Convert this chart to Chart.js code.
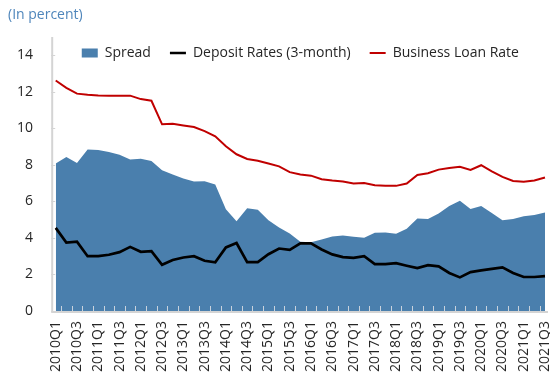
<!DOCTYPE html>
<html>
<head>
<meta charset="utf-8">
<script src="https://cdn.jsdelivr.net/npm/chart.js@4/dist/chart.umd.min.js"></script>
<style>
  html, body { margin: 0; padding: 0; background: #ffffff; }
  #wrap { width: 550px; height: 377px; }
</style>
</head>
<body>
<div id="wrap"><canvas id="c" width="550" height="377"></canvas></div>
<script>
// Quarterly observations, 2010Q1 - 2021Q3
const quarters = [
  '2010Q1','2010Q2','2010Q3','2010Q4','2011Q1','2011Q2','2011Q3','2011Q4',
  '2012Q1','2012Q2','2012Q3','2012Q4','2013Q1','2013Q2','2013Q3','2013Q4',
  '2014Q1','2014Q2','2014Q3','2014Q4','2015Q1','2015Q2','2015Q3','2015Q4',
  '2016Q1','2016Q2','2016Q3','2016Q4','2017Q1','2017Q2','2017Q3','2017Q4',
  '2018Q1','2018Q2','2018Q3','2018Q4','2019Q1','2019Q2','2019Q3','2019Q4',
  '2020Q1','2020Q2','2020Q3','2020Q4','2021Q1','2021Q2','2021Q3'
];

// Lending–deposit spread (percentage points)
const spread = [
  8.07, 8.43, 8.10, 8.84, 8.82, 8.71, 8.56, 8.29, 8.34, 8.21,
  7.70, 7.47, 7.25, 7.09, 7.10, 6.92, 5.57, 4.92, 5.63, 5.54,
  4.97, 4.57, 4.24, 3.79, 3.77, 3.92, 4.08, 4.14, 4.06, 4.01,
  4.28, 4.30, 4.23, 4.50, 5.07, 5.03, 5.34, 5.75, 6.03, 5.59,
  5.75, 5.37, 4.97, 5.03, 5.19, 5.25, 5.39
];

// 3-month deposit rate (percent)
const depositRates = [
  4.55, 3.75, 3.79, 3.00, 3.00, 3.08, 3.22, 3.51, 3.24, 3.28,
  2.53, 2.79, 2.93, 3.00, 2.75, 2.67, 3.48, 3.72, 2.68, 2.68,
  3.11, 3.42, 3.35, 3.70, 3.70, 3.37, 3.10, 2.95, 2.91, 3.00,
  2.57, 2.57, 2.62, 2.48, 2.35, 2.51, 2.44, 2.08, 1.84, 2.13,
  2.22, 2.31, 2.39, 2.08, 1.86, 1.86, 1.91
];

// Business loan rate (percent)
const businessLoanRate = [
  12.62, 12.22, 11.90, 11.84, 11.80, 11.79, 11.79, 11.79, 11.60, 11.51,
  10.22, 10.25, 10.16, 10.07, 9.85, 9.56, 9.02, 8.58, 8.32, 8.23,
  8.07, 7.92, 7.60, 7.47, 7.41, 7.21, 7.14, 7.09, 6.98, 7.01,
  6.88, 6.85, 6.85, 6.98, 7.45, 7.54, 7.74, 7.83, 7.89, 7.72,
  7.98, 7.65, 7.34, 7.12, 7.07, 7.14, 7.31
];

const yTicks = [0, 2, 4, 6, 8, 10, 12, 14];

const FONT = "'Open Sans', 'Noto Sans', sans-serif";
const FONT_SIZE = 14;
const TEXT = '#262626';
const AXIS = '#d4d4d4';
const LEGEND_PAD = 19;

// Axis lines and small tick marks
const axisDecor = {
  id: 'axisDecor',
  afterDatasetsDraw(chart) {
    const { ctx, chartArea: a, scales: { x, y } } = chart;
    const axisX = a.left - 3.5;
    ctx.save();
    // x tick marks between categories
    ctx.strokeStyle = '#c9d3dd';
    ctx.lineWidth = 1;
    for (let i = 0; i < quarters.length - 1; i++) {
      const px = Math.round((x.getPixelForValue(i) + x.getPixelForValue(i + 1)) / 2) + 0.5;
      ctx.beginPath();
      ctx.moveTo(px, a.bottom - 5);
      ctx.lineTo(px, a.bottom);
      ctx.stroke();
    }
    // y axis line
    ctx.strokeStyle = AXIS;
    ctx.lineWidth = 2;
    ctx.beginPath();
    ctx.moveTo(axisX, a.top);
    ctx.lineTo(axisX, a.bottom + 1);
    ctx.stroke();
    // y tick marks
    ctx.lineWidth = 1;
    yTicks.forEach(v => {
      const py = Math.round(y.getPixelForValue(v)) + 0.5;
      ctx.beginPath();
      ctx.moveTo(axisX - 1, py);
      ctx.lineTo(axisX + 3, py);
      ctx.stroke();
    });
    // x axis line
    ctx.lineWidth = 2;
    ctx.beginPath();
    ctx.moveTo(axisX - 1, a.bottom + 1);
    ctx.lineTo(a.right + 3, a.bottom + 1);
    ctx.stroke();
    ctx.restore();
  }
};

// Horizontal legend that sits inside the top of the plot area
const legendInPlot = {
  id: 'legendInPlot',
  afterInit(chart) {
    const lg = chart.legend;
    const fit = lg.fit;
    lg.fit = function () { fit.call(this); this.height = 0; };
  },
  afterLayout(chart) {
    const lg = chart.legend;
    lg.top = chart.chartArea.top + 16 - FONT_SIZE / 2 - LEGEND_PAD;
    lg.height = 44;
    lg.bottom = lg.top + 44;
  }
};

new Chart(document.getElementById('c'), {
  type: 'line',
  data: {
    labels: quarters,
    datasets: [
      {
        label: 'Spread',
        data: spread,
        fill: 'origin',
        backgroundColor: '#4a7fad',
        borderColor: '#4a7fad',
        borderWidth: 0,
        pointRadius: 0,
        pointStyle: 'rect',
        tension: 0
      },
      {
        label: 'Deposit Rates (3-month)',
        data: depositRates,
        fill: false,
        borderColor: '#000000',
        backgroundColor: '#000000',
        borderWidth: 2.7,
        pointRadius: 0,
        pointStyle: 'line',
        tension: 0
      },
      {
        label: 'Business Loan Rate',
        data: businessLoanRate,
        fill: false,
        borderColor: '#c00000',
        backgroundColor: '#c00000',
        borderWidth: 2,
        pointRadius: 0,
        pointStyle: 'line',
        tension: 0
      }
    ]
  },
  options: {
    responsive: false,
    animation: false,
    devicePixelRatio: 1,
    layout: { padding: { left: 8, right: 5, top: 0, bottom: 0 } },
    plugins: {
      filler: { drawTime: 'beforeDatasetsDraw' },
      tooltip: { enabled: false },
      title: {
        display: true,
        text: '(In percent)',
        align: 'start',
        color: '#4f86bb',
        font: { family: FONT, size: FONT_SIZE, weight: 'normal' },
        padding: { top: 6.6, bottom: 13.6 }
      },
      legend: {
        position: 'top',
        align: 'center',
        fullSize: false,
        labels: {
          usePointStyle: true,
          pointStyleWidth: 16,
          boxHeight: 9,
          padding: LEGEND_PAD,
          color: TEXT,
          font: { family: FONT, size: FONT_SIZE }
        }
      }
    },
    scales: {
      x: {
        type: 'category',
        grid: { display: false, drawTicks: false },
        border: { display: false },
        ticks: {
          autoSkip: false,
          maxRotation: 90,
          minRotation: 90,
          padding: 10,
          color: TEXT,
          font: { family: FONT, size: FONT_SIZE },
          callback: function (val, index) {
            return index % 2 === 0 ? this.getLabelForValue(val) : '';
          }
        },
        afterFit(scale) {
          scale.height = 66;
          scale.paddingLeft = 0;
          scale.paddingRight = 0;
        }
      },
      y: {
        min: 0,
        max: 15,
        grid: { display: false, drawTicks: false },
        border: { display: false },
        ticks: {
          stepSize: 2,
          includeBounds: false,
          padding: 22.7,
          color: TEXT,
          font: { family: FONT, size: FONT_SIZE }
        },
        afterFit(scale) {
          scale.width = 47.7;
          scale.paddingTop = 0;
          scale.paddingBottom = 0;
        }
      }
    }
  },
  plugins: [axisDecor, legendInPlot]
});
</script>
</body>
</html>
